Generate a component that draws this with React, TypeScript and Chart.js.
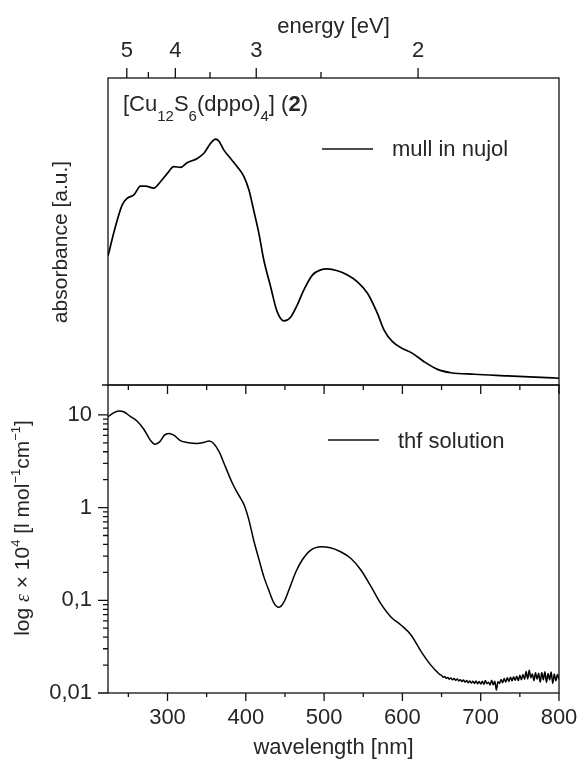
import React, { useEffect, useRef } from 'react';
import { Chart, registerables } from 'chart.js';

Chart.register(...registerables);

const X_MIN = 224;
const X_MAX = 800;
const HC = 1240; // eV*nm, wavelength <-> energy

const mullWavelength = [
  224, 233.5, 242, 248.5, 257, 265.5, 272, 282.5, 291, 300, 308, 316.6, 325, 338, 346.5, 355,
  361.4, 365.6, 372, 380.6, 389, 397.6, 404, 410, 416.7, 423, 431.7, 440, 448.8, 457, 465.8,
  474, 485, 495.7, 504, 517, 529.8, 542.6, 555.4, 568, 576.6, 587.3, 600, 612.9, 627.7, 644.9,
  662, 691.7, 734.4, 777, 800,
];
const mullAbsorbance = [
  0.42, 0.516, 0.586, 0.608, 0.619, 0.648, 0.648, 0.641, 0.662, 0.69, 0.711, 0.709, 0.724,
  0.738, 0.755, 0.787, 0.801, 0.795, 0.765, 0.738, 0.711, 0.679, 0.635, 0.57, 0.494, 0.407,
  0.32, 0.239, 0.209, 0.22, 0.261, 0.309, 0.358, 0.375, 0.378, 0.372, 0.358, 0.336, 0.299,
  0.234, 0.179, 0.141, 0.119, 0.103, 0.076, 0.051, 0.04, 0.035, 0.03, 0.025, 0.022,
];

const thfWavelength = [
  224, 231, 238, 244, 252, 261, 270, 278, 284, 290, 296, 302, 308, 317, 325, 338, 346, 353,
  359, 366, 374, 383, 391, 398, 404, 410, 417, 423, 430, 436, 442, 449, 455, 464, 472, 483,
  496, 508, 521, 534, 547, 560, 572, 585, 598, 611, 624, 636,
  640, 642, 644, 646, 648, 650, 652, 654, 656, 658, 660, 662, 664, 666, 668, 670, 672, 674,
  676, 678, 680, 682, 684, 686, 688, 690, 692, 694, 696, 698, 700, 702, 704, 706, 708, 710,
  712, 714, 716, 718, 720, 722, 724, 726, 728, 730, 732, 734, 736, 738, 740, 742, 744, 746,
  748, 750, 752, 754, 756, 758, 760, 762, 764, 766, 768, 770, 772, 774, 776, 778, 780, 782,
  784, 786, 788, 790, 792, 794, 796, 798, 800,
];
const thfEpsilon = [
  9.5, 10.5, 11.0, 10.8, 9.7, 8.6, 6.96, 5.34, 4.83, 5.11, 6.04, 6.3, 6.04, 5.25, 5.04, 4.92,
  5.04, 5.21, 4.92, 3.99, 2.75, 1.82, 1.36, 1.06, 0.733, 0.447, 0.272, 0.18, 0.124, 0.093,
  0.084, 0.097, 0.129, 0.203, 0.272, 0.348, 0.379, 0.368, 0.334, 0.284, 0.212, 0.14, 0.093,
  0.0666, 0.0542, 0.0423, 0.0279, 0.0201,
  0.0185, 0.0176, 0.017, 0.0163, 0.0158, 0.0155, 0.0148, 0.0151, 0.0144, 0.0147, 0.0141,
  0.0145, 0.0139, 0.0143, 0.0137, 0.0142, 0.0135, 0.0139, 0.0133, 0.0138, 0.0131, 0.0136,
  0.0129, 0.0135, 0.0128, 0.0134, 0.0127, 0.0135, 0.0126, 0.0133, 0.0125, 0.0134, 0.0124,
  0.0136, 0.0126, 0.0131, 0.0122, 0.0137, 0.0123, 0.0134, 0.0108, 0.0132, 0.0127, 0.014,
  0.0129, 0.0143, 0.0131, 0.0146, 0.0133, 0.0148, 0.0135, 0.015, 0.0137, 0.0152, 0.0136,
  0.0155, 0.0139, 0.0158, 0.0141, 0.0171, 0.0142, 0.0176, 0.0146, 0.016, 0.0136, 0.0165,
  0.0141, 0.0163, 0.0131, 0.0166, 0.0139, 0.017, 0.013, 0.0162, 0.0139, 0.0168, 0.0127,
  0.016, 0.0135, 0.0158, 0.014,
];

const wavelengthMajor = [300, 400, 500, 600, 700, 800];
const wavelengthMinor = [250, 350, 450, 550, 650, 750];
const energyMajor = [5, 4, 3, 2];
const energyMinor = [4.5, 3.5, 2.5];
const epsilonMajor = [0.01, 0.1, 1, 10];
const epsilonLabels = ['0,01', '0,1', '1', '10'];
const Y_LOG_MIN = 0.01;
const Y_LOG_MAX = 21;

const FONT = '"Liberation Sans", Arial, Helvetica, sans-serif';
const SERIF = '"Liberation Serif", "DejaVu Serif", serif';
const TEXT = '#262626';
const INK = '#111111';

const W = 582;
const TOP_H = 386;
const BOT_OFF = 380;
const BOT_H = 765 - BOT_OFF;

type Run = { text: string; size: number; dy?: number; bold?: boolean; italic?: boolean; family?: string };

function runFont(r: Run) {
  return `${r.italic ? 'italic ' : ''}${r.bold ? 'bold ' : ''}${r.size}px ${r.family || FONT}`;
}
function measureRuns(ctx: CanvasRenderingContext2D, runs: Run[]) {
  let w = 0;
  runs.forEach((r) => {
    ctx.font = runFont(r);
    w += ctx.measureText(r.text).width;
  });
  return w;
}
function drawRuns(ctx: CanvasRenderingContext2D, runs: Run[], x: number, y: number) {
  let cx = x;
  runs.forEach((r) => {
    ctx.font = runFont(r);
    ctx.fillText(r.text, cx, y + (r.dy || 0));
    cx += ctx.measureText(r.text).width;
  });
}

const compoundRuns: Run[] = [
  { text: '[Cu', size: 22 },
  { text: '12', size: 15, dy: 10 },
  { text: 'S', size: 22 },
  { text: '6', size: 15, dy: 10 },
  { text: '(dppo)', size: 22 },
  { text: '4', size: 15, dy: 10 },
  { text: '] (', size: 22 },
  { text: '2', size: 22, bold: true },
  { text: ')', size: 22 },
];

const epsTitleRuns: Run[] = [
  { text: 'log ', size: 21 },
  { text: 'ε', size: 20, italic: true, family: SERIF },
  { text: ' × 10', size: 21 },
  { text: '4', size: 13, dy: -9 },
  { text: ' [l mol', size: 21 },
  { text: '−1', size: 13, dy: -9 },
  { text: 'cm', size: 21 },
  { text: '−1', size: 13, dy: -9 },
  { text: ']', size: 21 },
];

function tick(ctx: CanvasRenderingContext2D, x1: number, y1: number, x2: number, y2: number) {
  ctx.moveTo(x1, y1);
  ctx.lineTo(x2, y2);
}

const zeroPadding = (s: any) => {
  s.paddingTop = 0;
  s.paddingBottom = 0;
  s.paddingLeft = 0;
  s.paddingRight = 0;
};

const topDecor = {
  id: 'topDecor',
  afterDraw(chart: any) {
    const { ctx, chartArea: a, scales } = chart;
    const xe = scales.xe;
    ctx.save();
    ctx.strokeStyle = INK;
    ctx.lineWidth = 1.3;
    ctx.strokeRect(a.left, a.top, a.right - a.left, a.bottom - a.top);
    ctx.beginPath();
    energyMajor.forEach((e) => {
      const x = xe.getPixelForValue(HC / e);
      tick(ctx, x, a.top, x, a.top - 10);
    });
    energyMinor.forEach((e) => {
      const x = xe.getPixelForValue(HC / e);
      tick(ctx, x, a.top, x, a.top - 6);
    });
    tick(ctx, a.left, a.bottom, a.left - 6, a.bottom);
    ctx.stroke();

    // legend
    ctx.beginPath();
    ctx.lineWidth = 1.6;
    ctx.moveTo(322, 149);
    ctx.lineTo(373, 149);
    ctx.stroke();
    ctx.fillStyle = TEXT;
    ctx.textAlign = 'left';
    ctx.textBaseline = 'alphabetic';
    ctx.font = `22px ${FONT}`;
    ctx.fillText('mull in nujol', 392, 156);

    // compound label
    drawRuns(ctx, compoundRuns, 123, 111);

    // y title
    ctx.save();
    ctx.translate(67, 242);
    ctx.rotate(-Math.PI / 2);
    ctx.textAlign = 'center';
    ctx.font = `21px ${FONT}`;
    ctx.fillText('absorbance [a.u.]', 0, 0);
    ctx.restore();
    ctx.restore();
  },
};

const bottomDecor = {
  id: 'bottomDecor',
  afterDraw(chart: any) {
    const { ctx, chartArea: a, scales } = chart;
    const xs = scales.x;
    const ys = scales.y;
    ctx.save();
    ctx.strokeStyle = INK;
    ctx.lineWidth = 1.3;
    ctx.strokeRect(a.left, a.top, a.right - a.left, a.bottom - a.top);
    ctx.beginPath();
    wavelengthMajor.forEach((w) => {
      const x = xs.getPixelForValue(w);
      tick(ctx, x, a.bottom, x, a.bottom + 8);
      tick(ctx, x, a.top, x, a.top + 9);
    });
    wavelengthMinor.forEach((w) => {
      const x = xs.getPixelForValue(w);
      tick(ctx, x, a.bottom, x, a.bottom + 4);
      tick(ctx, x, a.top, x, a.top + 5);
    });
    epsilonMajor.forEach((v) => {
      const y = ys.getPixelForValue(v);
      tick(ctx, a.left, y, a.left - 10, y);
    });
    epsilonMajor.forEach((d) => {
      for (let k = 2; k <= 9; k++) {
        const v = d * k;
        if (v > Y_LOG_MAX) continue;
        const y = ys.getPixelForValue(v);
        if (y < a.top + 2) continue;
        tick(ctx, a.left, y, a.left - 5, y);
      }
    });
    ctx.stroke();

    // legend
    ctx.beginPath();
    ctx.lineWidth = 1.6;
    ctx.moveTo(328, 440 - BOT_OFF);
    ctx.lineTo(379, 440 - BOT_OFF);
    ctx.stroke();
    ctx.fillStyle = TEXT;
    ctx.textAlign = 'left';
    ctx.textBaseline = 'alphabetic';
    ctx.font = `22px ${FONT}`;
    ctx.fillText('thf solution', 398, 448 - BOT_OFF);

    // y title
    const w = measureRuns(ctx, epsTitleRuns);
    ctx.save();
    ctx.translate(29, 528 - BOT_OFF);
    ctx.rotate(-Math.PI / 2);
    ctx.textAlign = 'left';
    drawRuns(ctx, epsTitleRuns, -w / 2, 0);
    ctx.restore();
    ctx.restore();
  },
};

function TopPanel() {
  const ref = useRef<HTMLCanvasElement>(null);
  useEffect(() => {
    const chart = new Chart(ref.current as HTMLCanvasElement, {
      type: 'line',
      data: {
        datasets: [
          {
            data: mullWavelength.map((x, i) => ({ x, y: mullAbsorbance[i] })),
            borderColor: '#000',
            borderWidth: 1.7,
            pointRadius: 0,
            cubicInterpolationMode: 'monotone',
            xAxisID: 'xe',
            yAxisID: 'y',
          },
        ],
      },
      options: {
        responsive: false,
        animation: false,
        devicePixelRatio: 1,
        layout: { padding: { left: 0, right: 23, top: 0, bottom: 1 } },
        plugins: { legend: { display: false }, tooltip: { enabled: false } },
        scales: {
          xe: {
            type: 'linear',
            position: 'top',
            min: X_MIN,
            max: X_MAX,
            afterBuildTicks: (s: any) => {
              s.ticks = energyMajor.map((e) => ({ value: HC / e }));
            },
            afterFit: (s: any) => {
              s.height = 78;
              zeroPadding(s);
            },
            grid: { display: false, drawTicks: false },
            border: { display: false },
            ticks: {
              autoSkip: false,
              maxRotation: 0,
              padding: 14,
              color: TEXT,
              font: { family: FONT, size: 22 },
              callback: (v: any) => {
                const k = energyMajor.findIndex((e) => Math.abs(HC / e - v) < 1e-6);
                return k >= 0 ? String(energyMajor[k]) : '';
              },
            },
            title: {
              display: true,
              text: 'energy [eV]',
              color: TEXT,
              font: { family: FONT, size: 22 },
              padding: { top: 14, bottom: 0 },
            },
          },
          y: {
            type: 'linear',
            min: 0,
            max: 1,
            afterFit: (s: any) => {
              s.width = 108;
              zeroPadding(s);
            },
            grid: { display: false, drawTicks: false },
            border: { display: false },
            ticks: { display: false },
          },
        },
      },
      plugins: [topDecor],
    } as any);
    return () => chart.destroy();
  }, []);
  return (
    <canvas
      ref={ref}
      width={W}
      height={TOP_H}
      style={{ position: 'absolute', left: 0, top: 0, width: W, height: TOP_H }}
    />
  );
}

function BottomPanel() {
  const ref = useRef<HTMLCanvasElement>(null);
  useEffect(() => {
    const chart = new Chart(ref.current as HTMLCanvasElement, {
      type: 'line',
      data: {
        datasets: [
          {
            data: thfWavelength.map((x, i) => ({ x, y: thfEpsilon[i] })),
            borderColor: '#000',
            borderWidth: 1.5,
            pointRadius: 0,
            cubicInterpolationMode: 'monotone',
          },
        ],
      },
      options: {
        responsive: false,
        animation: false,
        devicePixelRatio: 1,
        layout: { padding: { left: 0, right: 23, top: 5, bottom: 0 } },
        plugins: { legend: { display: false }, tooltip: { enabled: false } },
        scales: {
          x: {
            type: 'linear',
            position: 'bottom',
            min: X_MIN,
            max: X_MAX,
            afterBuildTicks: (s: any) => {
              s.ticks = wavelengthMajor.map((v) => ({ value: v }));
            },
            afterFit: (s: any) => {
              s.height = 72;
              zeroPadding(s);
            },
            grid: { display: false, drawTicks: false },
            border: { display: false },
            ticks: {
              autoSkip: false,
              maxRotation: 0,
              padding: 12,
              color: TEXT,
              font: { family: FONT, size: 22 },
              callback: (v: any) => String(v),
            },
            title: {
              display: true,
              text: 'wavelength [nm]',
              color: TEXT,
              font: { family: FONT, size: 22 },
              padding: { top: 0, bottom: 4 },
            },
          },
          y: {
            type: 'logarithmic',
            min: Y_LOG_MIN,
            max: Y_LOG_MAX,
            afterBuildTicks: (s: any) => {
              s.ticks = epsilonMajor.map((v) => ({ value: v, major: true }));
            },
            afterFit: (s: any) => {
              s.width = 108;
              zeroPadding(s);
            },
            grid: { display: false, drawTicks: false },
            border: { display: false },
            ticks: {
              autoSkip: false,
              padding: 16,
              color: TEXT,
              font: { family: FONT, size: 22 },
              callback: (v: any) => {
                const k = epsilonMajor.findIndex((t) => Math.abs(Math.log10(t) - Math.log10(v)) < 1e-6);
                return k >= 0 ? epsilonLabels[k] : '';
              },
            },
          },
        },
      },
      plugins: [bottomDecor],
    } as any);
    return () => chart.destroy();
  }, []);
  return (
    <canvas
      ref={ref}
      width={W}
      height={BOT_H}
      style={{ position: 'absolute', left: 0, top: BOT_OFF, width: W, height: BOT_H }}
    />
  );
}

export default function App() {
  return (
    <div style={{ position: 'absolute', left: 0, top: 0, width: W, height: 765, background: '#fff' }}>
      <TopPanel />
      <BottomPanel />
    </div>
  );
}
